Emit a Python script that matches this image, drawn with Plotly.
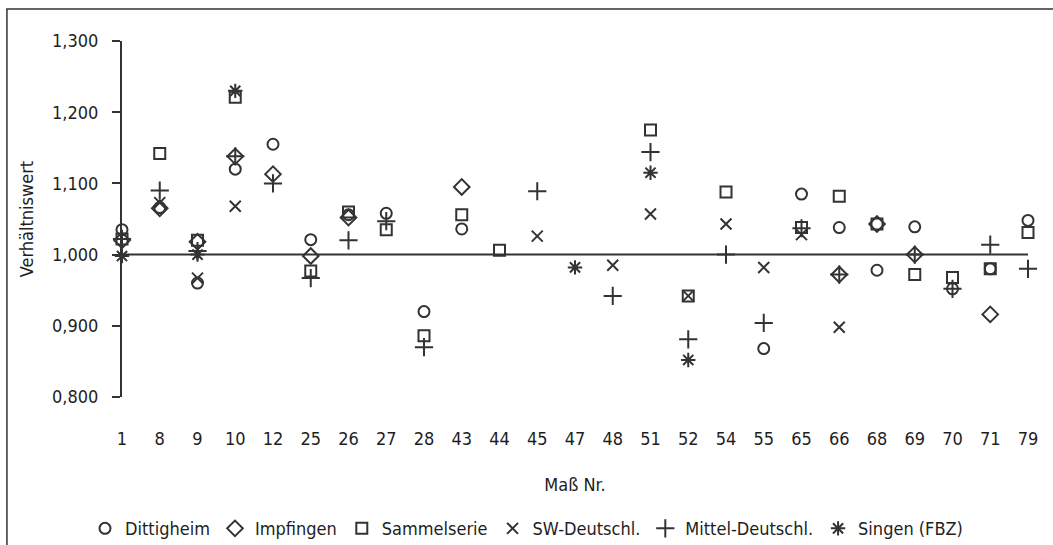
import plotly.graph_objects as go

# Maß-Nummern (x-axis categories)
mass_nr = ["1", "8", "9", "10", "12", "25", "26", "27", "28", "43", "44", "45", "47",
           "48", "51", "52", "54", "55", "65", "66", "68", "69", "70", "71", "79"]

# Verhältniswerte per series (None = no value for that measurement)
dittigheim = [1.035, 1.066, 0.960, 1.120, 1.155, 1.021, 1.056, 1.058, 0.920, 1.036, None, None, None,
              None, None, None, None, 0.868, 1.085, 1.038, 0.978, 1.039, 0.952, 0.980, 1.048]
impfingen = [1.020, 1.065, 1.018, 1.138, 1.113, 0.998, 1.052, None, None, 1.095, None, None, None,
             None, None, None, None, None, None, 0.972, 1.043, 1.000, None, 0.916, None]
sammelserie = [1.022, 1.142, 1.020, 1.221, None, 0.977, 1.060, 1.035, 0.886, 1.056, 1.006, None, None,
               None, 1.175, 0.942, 1.088, None, 1.038, 1.082, 1.043, 0.972, 0.968, 0.980, 1.031]
sw_deutschl = [None, 1.073, 0.967, 1.068, None, None, None, None, None, None, None, 1.026, None,
               0.985, 1.057, 0.942, 1.043, 0.982, 1.028, 0.898, None, None, None, None, None]
mittel_deutschl = [1.022, 1.090, 1.005, 1.138, 1.100, 0.967, 1.020, 1.047, 0.870, None, None, 1.089, None,
                   0.942, 1.144, 0.881, 1.000, 0.904, 1.037, 0.972, None, 1.000, 0.952, 1.014, 0.980]
singen_fbz = [0.998, None, 1.000, 1.230, None, None, None, None, None, None, None, None, 0.982,
              None, 1.115, 0.852, None, None, None, None, None, None, None, None, None]

BASELINE = 1.0
Y_MIN, Y_MAX, Y_STEP = 0.8, 1.3, 0.1

INK = "#333333"
TEXT = "#1e1e1e"
FONT = "Liberation Sans Narrow, Arial Narrow, DejaVu Sans Condensed, Liberation Sans, Arial, sans-serif"
FS = 18

series = [
    ("Dittigheim", dittigheim, "circle-open", 11),
    ("Impfingen", impfingen, "diamond-open", 12),
    ("Sammelserie", sammelserie, "square-open", 11),
    ("SW-Deutschl.", sw_deutschl, "x-thin-open", 11),
    ("Mittel-Deutschl.", mittel_deutschl, "cross-thin-open", 13),
    ("Singen (FBZ)", singen_fbz, "asterisk-open", 12),
]

fig = go.Figure()
for name, values, symbol, size in series:
    fig.add_trace(go.Scatter(
        x=mass_nr, y=values, name=name, mode="markers", cliponaxis=False,
        marker=dict(symbol=symbol, size=size, color=INK, line=dict(width=2, color=INK)),
    ))

# Horizontal axis crosses the value axis at 1,000
fig.add_shape(type="line", xref="x domain", yref="y", x0=0, x1=1, y0=BASELINE, y1=BASELINE,
              line=dict(color=INK, width=2))

# Outer chart frame (top and left edges)
fig.add_shape(type="rect", xref="paper", yref="paper", x0=-0.127, x1=1.2, y0=-0.6, y1=1.09,
              line=dict(color=INK, width=1.5), layer="below")

tickvals = [Y_MIN + i * Y_STEP for i in range(6)]

fig.update_layout(
    width=1053, height=545,
    margin=dict(l=122, r=25, t=41, b=148, autoexpand=False),
    paper_bgcolor="white", plot_bgcolor="white",
    separators=",.",
    font=dict(family=FONT, size=FS, color=TEXT),
    showlegend=True,
    legend=dict(orientation="h", xref="container", yref="container", x=0.5, xanchor="center",
                y=0.03, yanchor="middle", font=dict(size=FS), itemwidth=30),
    xaxis=dict(type="category", categoryorder="array", categoryarray=mass_nr,
               range=[0, len(mass_nr) - 1], showgrid=False, zeroline=False, showline=False,
               ticks="", ticklabelstandoff=29, tickfont=dict(size=FS),
               title=dict(text="Maß Nr.", standoff=30, font=dict(size=FS))),
    yaxis=dict(range=[Y_MIN, Y_MAX], tickvals=tickvals, tickformat=".3f", showgrid=False,
               zeroline=False, showline=True, linecolor=INK, linewidth=2,
               ticks="outside", ticklen=8, tickwidth=2, tickcolor=INK, ticklabelstandoff=10,
               tickfont=dict(size=FS),
               title=dict(text="Verhältniswert", standoff=14, font=dict(size=FS))),
    yaxis2=dict(range=[Y_MIN, Y_MAX], tickvals=tickvals, overlaying="y", side="left", anchor="x",
                showgrid=False, zeroline=False, showline=False, showticklabels=False,
                ticks="inside", ticklen=8, tickwidth=2, tickcolor=INK),
)

fig.write_html("out.html")
